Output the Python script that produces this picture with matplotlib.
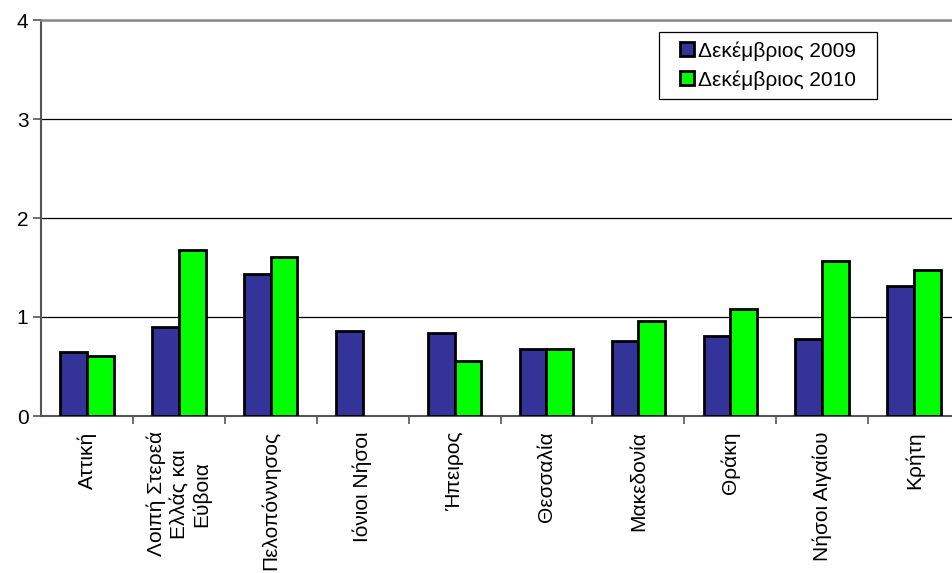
import numpy as np
import matplotlib
matplotlib.use("Agg")
import matplotlib.pyplot as plt
from matplotlib.patches import Rectangle
from matplotlib.ticker import FixedLocator

plt.rcParams['font.family'] = ['Liberation Sans', 'DejaVu Sans']

regions = ['Αττική', 'Λοιπή Στερεά\nΕλλάς και\nΕύβοια', 'Πελοπόννησος', 'Ιόνιοι Νήσοι',
           'Ήπειρος', 'Θεσσαλία', 'Μακεδονία', 'Θράκη', 'Νήσοι Αιγαίου', 'Κρήτη']
dec_2009 = [0.65, 0.90, 1.43, 0.86, 0.84, 0.68, 0.76, 0.81, 0.78, 1.31]
dec_2010 = [0.61, 1.68, 1.61, np.nan, 0.56, 0.68, 0.96, 1.08, 1.57, 1.47]
series_names = ['Δεκέμβριος 2009', 'Δεκέμβριος 2010']

fig = plt.figure(figsize=(9.52, 5.73), dpi=100)
ax = fig.add_axes([41 / 952, 157 / 573, 919 / 952, 396 / 573])

x = np.arange(len(regions))
w = 0.29
ax.bar(x - w / 2, dec_2009, w, color='#333399', edgecolor='black', linewidth=2,
       label=series_names[0], zorder=3)
ax.bar(x + w / 2, dec_2010, w, color='#00ff00', edgecolor='black', linewidth=2,
       label=series_names[1], zorder=3)

ax.set_xlim(-0.5, len(regions) - 0.5)
ax.set_ylim(0, 4)
ax.set_yticks([0, 1, 2, 3, 4])
ax.yaxis.grid(True, color='black', linewidth=0.9, zorder=0)

# ticks between categories, labels at centres
ax.xaxis.set_major_locator(FixedLocator(np.arange(0.5, len(regions), 1.0)))
ax.xaxis.set_major_formatter(plt.NullFormatter())
ax.xaxis.set_minor_locator(FixedLocator(x))
ax.set_xticklabels(regions, minor=True, rotation=90, ha='center', va='top',
                   multialignment='center', fontsize=15, linespacing=1.25)
ax.tick_params(axis='x', which='major', length=6, color='#555555', width=1.2)
ax.tick_params(axis='x', which='minor', length=0, pad=11)
ax.tick_params(axis='y', length=6, color='#555555', width=1.2, labelsize=15, pad=3)

for side in ['left', 'bottom']:
    ax.spines[side].set_color('#555555')
    ax.spines[side].set_linewidth(1.5)
ax.spines['top'].set_color('#888888')
ax.spines['top'].set_linewidth(1.8)
ax.spines['right'].set_visible(False)

leg = ax.legend(loc='upper right', bbox_to_anchor=(0.897, 0.97), fontsize=15,
                frameon=False, handlelength=0.65, handleheight=0.65, handletextpad=0.2,
                borderpad=0.45, labelspacing=0.45, borderaxespad=0)
leg.set_zorder(6)

# legend box is wider than the entries in the original, so draw it by hand
fig.canvas.draw()
bb = leg.get_window_extent().transformed(fig.transFigure.inverted())
extra = 12 / 952
box = Rectangle((bb.x0 - extra, bb.y0), bb.width + 2 * extra, bb.height,
                transform=fig.transFigure, facecolor='white', edgecolor='black',
                linewidth=0.9, zorder=5, clip_on=False)
ax.add_patch(box)

fig.savefig('out.png', dpi=100)
